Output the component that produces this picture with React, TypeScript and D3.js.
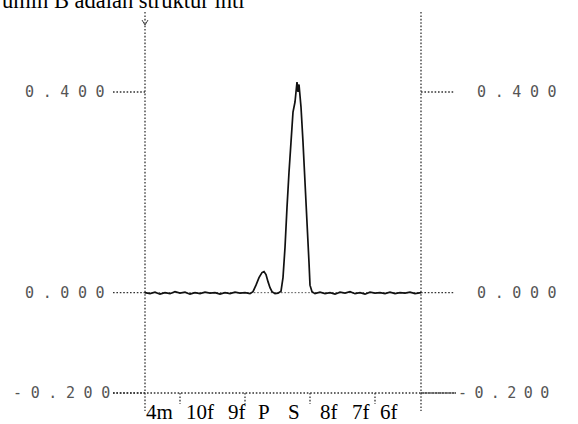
import React from "react";
import * as d3 from "d3";

const scans = [0,5,10,15,20,25,30,35,40,45,50,55,60,65,70,75,80,85,90,95,100,105,108,111,114,117,119,121,123,125,127,130,133,136,138,140,142,144,146,148,150,152,153,154,156,158,160,162,164,165,167,170,175,180,185,190,195,200,205,210,215,220,225,230,235,240,245,250,255,260,265,270,276];
const absorb = [0.000,-0.002,0.001,-0.003,0.000,-0.002,0.002,-0.001,0.001,-0.003,0.000,-0.002,0.001,-0.001,0.000,-0.003,0.000,-0.002,0.001,-0.001,0.000,-0.002,0.002,0.015,0.030,0.040,0.042,0.036,0.022,0.010,0.002,-0.002,-0.001,0.003,0.030,0.090,0.170,0.240,0.300,0.360,0.380,0.420,0.400,0.415,0.370,0.300,0.220,0.140,0.060,0.015,0.002,-0.002,0.001,-0.002,0.000,-0.003,0.001,-0.001,0.002,-0.002,0.000,-0.003,0.001,-0.001,0.000,-0.002,0.001,-0.002,0.000,-0.001,0.001,-0.002,0.000];
const yTicks = [0.4, 0.0, -0.2];
const yTickLabels = ["0.400", "0.000", "-0.200"];
const xTickScans = [35, 100, 165, 230];
const peakLabels = ["4m", "10f", "9f", "P", "S", "8f", "7f", "6f"];
const peakLabelX = [146, 186, 228, 258, 288, 320, 352, 380];
const caption = "umlh B adalah struktur inti";

export default function App() {
  const x = d3.scaleLinear().domain([0, 276]).range([145, 421]);
  const y = d3.scaleLinear().domain([-0.2, 0.4]).range([393, 92]);
  const line = d3.line<number>().x((_, i) => x(scans[i])).y((d) => y(d)).curve(d3.curveLinear);
  const dot = "1.6,1.8";
  const dotColor = "#333";
  const labelFont = "'DejaVu Sans Mono', monospace";
  return (
    <svg width={578} height={424} style={{ position: "absolute", left: 0, top: 0, background: "#fff" }}>
      <text x={2} y={8} fontFamily="'Liberation Serif', 'Times New Roman', serif" fontSize={22.5} fill="#000">{caption}</text>
      {/* vertical axes */}
      <line x1={145} x2={145} y1={12} y2={411} stroke={dotColor} strokeWidth={1.3} strokeDasharray={dot} />
      <line x1={421} x2={421} y1={12} y2={411} stroke={dotColor} strokeWidth={1.3} strokeDasharray={dot} />
      <path d="M142,20 L145,25 L148,20" fill="none" stroke="#444" strokeWidth={1} />
      {/* zero baseline */}
      <line x1={x(0)} x2={x(276)} y1={y(0)} y2={y(0)} stroke="#555" strokeWidth={1} strokeDasharray={dot} />
      {/* bottom axis */}
      <line x1={113} x2={456} y1={y(-0.2)} y2={y(-0.2)} stroke={dotColor} strokeWidth={1.5} strokeDasharray={dot} />
      {xTickScans.map((s) => (
        <line key={s} x1={x(s)} x2={x(s)} y1={y(-0.2)} y2={y(-0.2) + 11} stroke={dotColor} strokeWidth={1.3} strokeDasharray={dot} />
      ))}
      {yTicks.map((t, i) => (
        <g key={t}>
          <line x1={113} x2={145} y1={y(t)} y2={y(t)} stroke={dotColor} strokeWidth={1.3} strokeDasharray={dot} />
          <line x1={421} x2={i === 2 ? 456 : 454} y1={y(t)} y2={y(t)} stroke={dotColor} strokeWidth={1.3} strokeDasharray={dot} />
          <text x={i === 2 ? 13 : 25} y={y(t) + 5} fontFamily={labelFont} fontSize={15} letterSpacing={8.6} fill="#555">{yTickLabels[i]}</text>
          <text x={i === 2 ? 458 : 477} y={y(t) + 5} fontFamily={labelFont} fontSize={15} letterSpacing={i === 2 ? 7.4 : 8.6} fill="#555">{yTickLabels[i]}</text>
        </g>
      ))}
      <path d={line(absorb) || ""} fill="none" stroke="#111" strokeWidth={1.7} />
      {peakLabels.map((l, i) => (
        <text key={l} x={peakLabelX[i]} y={419} fontFamily="'Liberation Serif', 'Times New Roman', serif" fontSize={21} fill="#000">{l}</text>
      ))}
    </svg>
  );
}
